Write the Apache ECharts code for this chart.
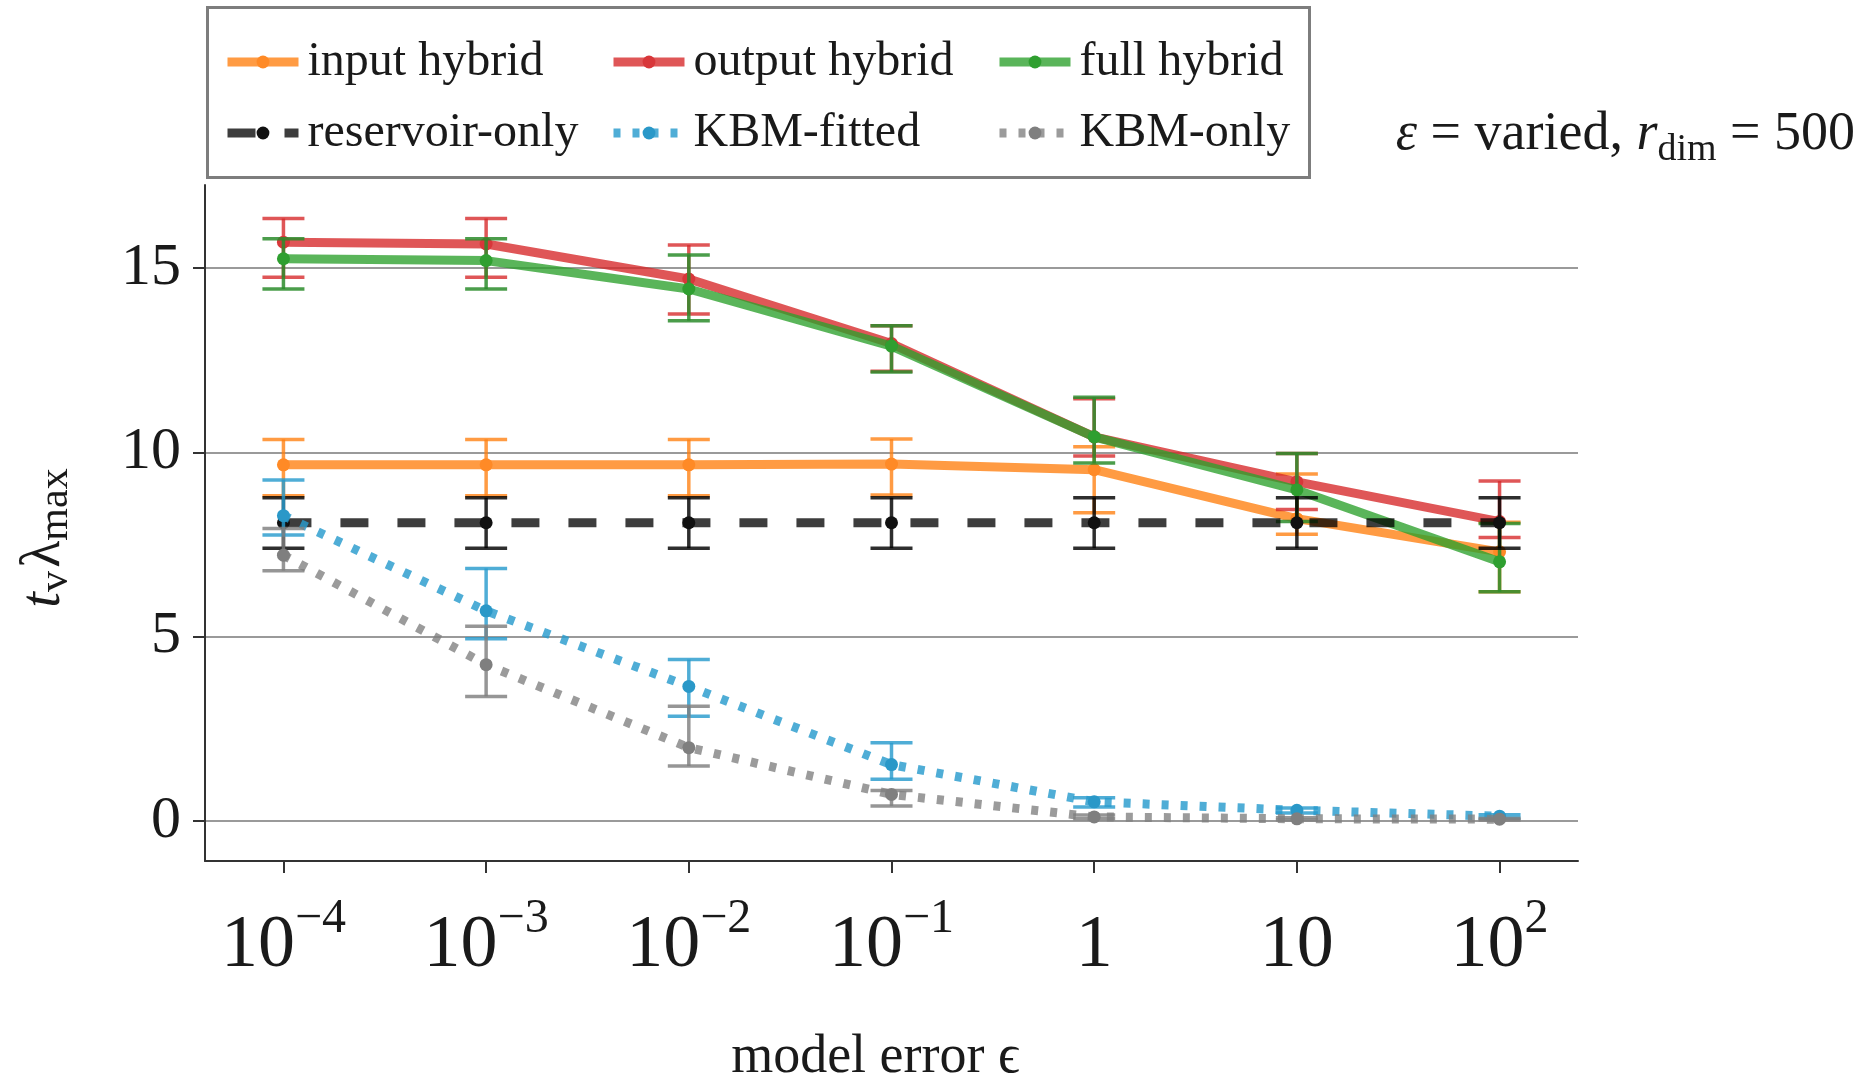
<!DOCTYPE html>
<html>
<head>
<meta charset="utf-8">
<title>Valid time vs model error</title>
<script src="https://cdn.jsdelivr.net/npm/echarts@6/dist/echarts.min.js"></script>
<style>
  html, body { margin: 0; padding: 0; background: #ffffff; }
  #chart { width: 1868px; height: 1074px; }
</style>
</head>
<body>
<div id="chart"></div>
<script>
// ---- data -------------------------------------------------------------
// model error epsilon (x positions, plotted on a log10 scale)
const epsilons = [1e-4, 1e-3, 1e-2, 1e-1, 1, 10, 100];
// tick label parts: mantissa and exponent
const xTickBase = ['10', '10', '10', '10', '1', '10', '10'];
const xTickExp  = ['−4', '−3', '−2', '−1', '', '', '2'];
const yTicks = [0, 5, 10, 15];

// input hybrid
const inputMean = [9.66, 9.66, 9.66, 9.68, 9.53, 8.20, 7.30];
const inputLow  = [8.82, 8.82, 8.82, 8.84, 8.36, 7.78, 6.22];
const inputHigh = [10.35, 10.35, 10.35, 10.36, 10.15, 9.41, 8.10];

// output hybrid
const outputMean = [15.70, 15.65, 14.70, 12.95, 10.42, 9.20, 8.12];
const outputLow  = [14.75, 14.75, 13.75, 12.20, 9.90, 8.45, 7.69];
const outputHigh = [16.34, 16.34, 15.62, 13.43, 11.45, 9.97, 9.22];

// full hybrid
const fullMean = [15.25, 15.20, 14.43, 12.88, 10.42, 8.98, 7.03];
const fullLow  = [14.43, 14.43, 13.57, 12.18, 9.71, 8.12, 6.22];
const fullHigh = [15.79, 15.79, 15.35, 13.43, 11.49, 9.97, 8.07];

// reservoir-only
const resMean = [8.09, 8.09, 8.09, 8.09, 8.09, 8.09, 8.09];
const resLow  = [7.40, 7.40, 7.40, 7.40, 7.40, 7.40, 7.40];
const resHigh = [8.77, 8.77, 8.77, 8.77, 8.77, 8.77, 8.77];

// KBM-fitted
const kbmFitMean = [8.28, 5.70, 3.65, 1.53, 0.52, 0.29, 0.13];
const kbmFitLow  = [7.76, 4.94, 2.84, 1.13, 0.38, 0.22, 0.08];
const kbmFitHigh = [9.25, 6.85, 4.38, 2.12, 0.63, 0.35, 0.17];

// KBM-only
const kbmOnlyMean = [7.21, 4.24, 1.99, 0.72, 0.11, 0.06, 0.05];
const kbmOnlyLow  = [6.79, 3.38, 1.49, 0.41, 0.06, 0.03, 0.03];
const kbmOnlyHigh = [7.93, 5.28, 3.11, 0.83, 0.16, 0.09, 0.07];

// ---- styling ------------------------------------------------------------
const FONT = '"Liberation Serif", "Times New Roman", Times, serif';
const TEXT = '#1a1a1a';

const xs = epsilons.map(e => Math.log10(e));

const groups = [
  { name: 'input hybrid',   mean: inputMean,   low: inputLow,   high: inputHigh,
    line: 'rgba(255,127,14,0.78)', mark: '#ff8a26', bar: 'rgba(255,127,14,0.78)', dash: 'solid' },
  { name: 'output hybrid',  mean: outputMean,  low: outputLow,  high: outputHigh,
    line: 'rgba(214,39,40,0.78)', mark: '#d8373a', bar: 'rgba(214,39,40,0.78)', dash: 'solid' },
  { name: 'full hybrid',    mean: fullMean,    low: fullLow,    high: fullHigh,
    line: 'rgba(44,160,44,0.78)', mark: '#2f9f30', bar: 'rgba(44,140,44,0.85)', dash: 'solid' },
  { name: 'reservoir-only', mean: resMean,     low: resLow,     high: resHigh,
    line: 'rgba(0,0,0,0.76)', mark: '#111111', bar: 'rgba(0,0,0,0.82)', dash: [28, 29] },
  { name: 'KBM-fitted',     mean: kbmFitMean,  low: kbmFitLow,  high: kbmFitHigh,
    line: 'rgba(40,155,205,0.82)', mark: '#2a98c8', bar: 'rgba(40,155,205,0.82)', dash: [7, 12] },
  { name: 'KBM-only',       mean: kbmOnlyMean, low: kbmOnlyLow, high: kbmOnlyHigh,
    line: 'rgba(127,127,127,0.78)', mark: '#7f7f7f', bar: 'rgba(127,127,127,0.82)', dash: [7, 12] }
];

function errorBarRenderer(color) {
  return function (params, api) {
    const x = api.value(0);
    const lo = api.coord([x, api.value(1)]);
    const hi = api.coord([x, api.value(2)]);
    const half = 21;
    const style = { stroke: color, lineWidth: 3.5, fill: null };
    return {
      type: 'group',
      children: [
        { type: 'line', shape: { x1: hi[0], y1: hi[1], x2: lo[0], y2: lo[1] }, style },
        { type: 'line', shape: { x1: hi[0] - half, y1: hi[1], x2: hi[0] + half, y2: hi[1] }, style },
        { type: 'line', shape: { x1: lo[0] - half, y1: lo[1], x2: lo[0] + half, y2: lo[1] }, style }
      ]
    };
  };
}

const series = [];
groups.forEach((g, i) => {
  series.push({
    name: g.name + ' error',
    type: 'custom',
    renderItem: errorBarRenderer(g.bar),
    data: xs.map((x, k) => [x, g.low[k], g.high[k]]),
    encode: { x: 0, y: [1, 2] },
    z: 10 + i * 3,
    silent: true
  });
  series.push({
    name: g.name,
    type: 'line',
    data: xs.map((x, k) => [x, g.mean[k]]),
    color: g.mark,
    symbol: 'circle',
    symbolSize: 13,
    showSymbol: true,
    itemStyle: { color: g.mark },
    lineStyle: { color: g.line, width: 9, type: g.dash, cap: 'butt' },
    z: 11 + i * 3,
    silent: true,
    animation: false
  });
});

function xLabel(v) {
  const i = xs.findIndex(x => Math.abs(x - v) < 1e-6);
  if (i < 0) return '';
  return xTickExp[i] ? `{b|${xTickBase[i]}}{sup|${xTickExp[i]}}` : `{b|${xTickBase[i]}}`;
}

const legendCols = [223, 609, 995];
const legendTextStyle = { fontFamily: FONT, fontSize: 48, color: TEXT, padding: [0, 0, 0, 4] };

const option = {
  backgroundColor: '#ffffff',
  animation: false,
  grid: { left: 205, right: 290, top: 185, bottom: 213, containLabel: false, outerBoundsMode: 'none' },
  title: {
    text: '{ie|ε}{n| = varied, }{i|r}{s|dim}{n| = 500}',
    right: 8,
    top: 96,
    textStyle: {
      fontWeight: 'normal',
      rich: {
        ie: { fontFamily: FONT, fontStyle: 'italic', fontWeight: 'normal', fontSize: 54, color: TEXT, lineHeight: 68 },
        n:  { fontFamily: FONT, fontWeight: 'normal', fontSize: 54, color: TEXT, lineHeight: 68 },
        i:  { fontFamily: FONT, fontStyle: 'italic', fontWeight: 'normal', fontSize: 54, color: TEXT, lineHeight: 68 },
        s:  { fontFamily: FONT, fontWeight: 'normal', fontSize: 38, color: TEXT, lineHeight: 38, verticalAlign: 'bottom' }
      }
    }
  },
  legend: legendCols.map((left, c) => ({
    data: [groups[c].name, groups[c + 3].name],
    orient: 'vertical',
    left: left,
    top: 38,
    padding: 0,
    itemWidth: 71,
    itemHeight: 16,
    itemGap: 23,
    selectedMode: false,
    lineStyle: { width: 9 },
    textStyle: legendTextStyle
  })),
  graphic: [{
    type: 'rect',
    left: 205,
    top: 5,
    shape: { width: 1102, height: 170 },
    style: { fill: null, stroke: '#7d7d7d', lineWidth: 3 },
    silent: true
  }],
  xAxis: {
    type: 'value',
    min: -4.387,
    max: 2.387,
    name: 'model error ϵ',
    nameLocation: 'middle',
    nameGap: 170,
    nameTextStyle: { fontFamily: FONT, fontSize: 54, color: TEXT, padding: [0, 32, 0, 0] },
    axisLine: { show: true, onZero: false, lineStyle: { color: '#333333', width: 2 } },
    axisTick: { show: true, customValues: xs, length: 12, lineStyle: { color: '#333333', width: 2 } },
    axisLabel: {
      customValues: xs,
      margin: 34,
      formatter: xLabel,
      rich: {
        b:   { fontFamily: FONT, fontSize: 74, color: TEXT, lineHeight: 104 },
        sup: { fontFamily: FONT, fontSize: 48, color: TEXT, lineHeight: 52, verticalAlign: 'top' }
      }
    },
    splitLine: { show: false }
  },
  yAxis: {
    type: 'value',
    min: -1.085,
    max: 17.25,
    name: '{it|t}{sub|v} {n|λ}{sub|max}',
    nameLocation: 'middle',
    nameRotate: 90,
    nameGap: 128,
    nameTextStyle: {
      padding: [0, 30, 0, 0],
      rich: {
        it:  { fontFamily: FONT, fontStyle: 'italic', fontSize: 56, color: TEXT, lineHeight: 66 },
        n:   { fontFamily: FONT, fontSize: 56, color: TEXT, lineHeight: 66 },
        sub: { fontFamily: FONT, fontSize: 42, color: TEXT, lineHeight: 42, verticalAlign: 'bottom' }
      }
    },
    axisLine: { show: true, onZero: false, lineStyle: { color: '#333333', width: 2 } },
    axisTick: { show: true, customValues: yTicks, length: 12, lineStyle: { color: '#333333', width: 2 } },
    axisLabel: { customValues: yTicks, fontFamily: FONT, fontSize: 60, color: TEXT, margin: 24 },
    splitLine: { show: true, lineStyle: { color: '#9a9a9a', width: 2 } }
  },
  series: series
};

const chart = echarts.init(document.getElementById('chart'), null, { renderer: 'canvas' });
chart.setOption(option);
</script>
</body>
</html>
